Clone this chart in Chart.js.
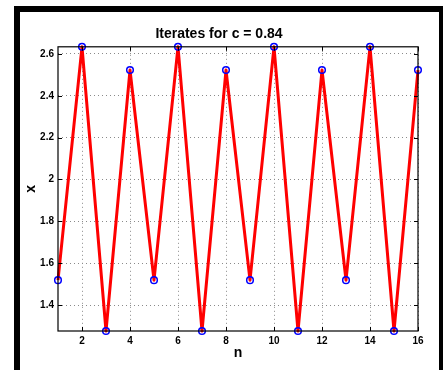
<!DOCTYPE html>
<html>
<head>
<meta charset="utf-8">
<script src="https://cdn.jsdelivr.net/npm/chart.js@4"></script>
<style>
  html, body { margin: 0; padding: 0; background: #fff; overflow: hidden; width: 443px; height: 370px; }
  #frame { position: absolute; left: 14px; top: 6px; width: 419px; height: 400px; border: 6px solid #000; }
  #wrap { position: absolute; left: 20px; top: 12px; width: 436px; height: 358px; }
</style>
</head>
<body>
<div id="frame"></div>
<div id="wrap"><canvas id="chart" width="436" height="358"></canvas></div>
<script>
// iterates for c = 0.84 (period-4 cycle)
const nValues = [1, 2, 3, 4, 5, 6, 7, 8, 9, 10, 11, 12, 13, 14, 15, 16];
const xValues = [1.519, 2.634, 1.276, 2.523, 1.519, 2.634, 1.276, 2.523,
                 1.519, 2.634, 1.276, 2.523, 1.519, 2.634, 1.276, 2.523];
const nTicks = [2, 4, 6, 8, 10, 12, 14, 16];
const xTicks = [1.4, 1.6, 1.8, 2, 2.2, 2.4, 2.6];
const xTickLabels = ["1.4", "1.6", "1.8", "2", "2.2", "2.4", "2.6"];

const FONT = "'Liberation Sans', Arial, Helvetica, sans-serif";

// matlab style box + inward ticks
const boxPlugin = {
    id: "box",
    afterDatasetsDraw(chart) {
        let {ctx, chartArea: a, scales} = chart;
        ctx.save();
        ctx.strokeStyle = "#000";
        ctx.lineWidth = 1;
        ctx.beginPath();
        nTicks.forEach(v => {
            let px = Math.round(scales.x.getPixelForValue(v)) + 0.5;
            ctx.moveTo(px, a.bottom); ctx.lineTo(px, a.bottom - 4);
            ctx.moveTo(px, a.top); ctx.lineTo(px, a.top + 4);
        });
        xTicks.forEach(v => {
            let py = Math.round(scales.y.getPixelForValue(v)) + 0.5;
            ctx.moveTo(a.left, py); ctx.lineTo(a.left + 4, py);
            ctx.moveTo(a.right, py); ctx.lineTo(a.right - 4, py);
        });
        ctx.stroke();
        ctx.lineWidth = 1.2;
        ctx.strokeRect(a.left, a.top, a.right - a.left, a.bottom - a.top);
        ctx.restore();
    }
};

new Chart(document.getElementById("chart"), {
    type: "line",
    data: {
        datasets: [{
            data: nValues.map((n, i) => ({x: n, y: xValues[i]})),
            borderColor: "#ff0000",
            borderWidth: 3,
            borderJoinStyle: "round",
            pointRadius: 3.3,
            pointBorderWidth: 1.5,
            pointBorderColor: "#0000ff",
            pointBackgroundColor: "rgba(0,0,0,0)",
            tension: 0,
            clip: false
        }]
    },
    options: {
        responsive: false,
        animation: false,
        events: [],
        layout: { padding: { left: 0, right: 38, top: 0, bottom: 0 } },
        plugins: {
            legend: { display: false },
            tooltip: { enabled: false },
            title: {
                display: true,
                text: "Iterates for c = 0.84",
                color: "#000",
                font: { family: FONT, size: 14, weight: "bold" },
                padding: { top: 14, bottom: 4 }
            }
        },
        scales: {
            x: {
                type: "linear",
                min: 1,
                max: 16,
                afterBuildTicks: s => { s.ticks = nTicks.map(v => ({value: v})); },
                afterFit: s => { s.height = 39; },
                border: { display: false, dash: [1, 3] },
                grid: { color: "#8a8a8a", lineWidth: 1, drawTicks: false },
                ticks: { color: "#000", padding: 4, maxRotation: 0, font: { family: FONT, size: 10, weight: "bold" } },
                title: {
                    display: true, text: "n", color: "#000",
                    font: { family: FONT, size: 14, weight: "bold" },
                    padding: { top: 0, bottom: 8 }
                }
            },
            y: {
                min: Math.min(...xValues),
                max: Math.max(...xValues),
                afterBuildTicks: s => { s.ticks = xTicks.map(v => ({value: v})); },
                afterFit: s => { s.width = 38; },
                border: { display: false, dash: [1, 3] },
                grid: { color: "#8a8a8a", lineWidth: 1, drawTicks: false },
                ticks: {
                    color: "#000", padding: 4,
                    font: { family: FONT, size: 10, weight: "bold" },
                    callback: (v, i) => xTickLabels[i]
                },
                title: {
                    display: true, text: "x", color: "#000",
                    font: { family: FONT, size: 14, weight: "bold" },
                    padding: { top: 3, bottom: 0 }
                }
            }
        }
    },
    plugins: [boxPlugin]
});
</script>
</body>
</html>
